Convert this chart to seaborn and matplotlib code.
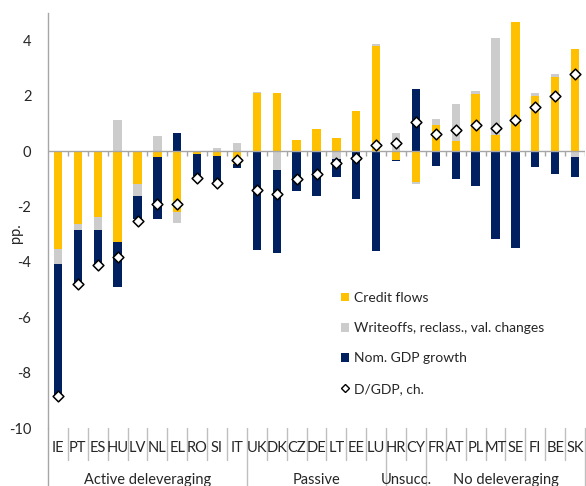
import numpy as np
import matplotlib
matplotlib.use("Agg")
import matplotlib.pyplot as plt
import seaborn as sns
from matplotlib.patches import Patch
from matplotlib.lines import Line2D

COUNTRIES = ["IE", "PT", "ES", "HU", "LV", "NL", "EL", "RO", "SI", "IT",
             "UK", "DK", "CZ", "DE", "LT", "EE", "LU",
             "HR", "CY",
             "FR", "AT", "PL", "MT", "SE", "FI", "BE", "SK"]

CREDIT = [-3.54, -2.64, -2.39, -3.29, -1.18, -0.20, -2.19, -0.10, -0.19, -0.48,
          2.10, 2.10, 0.41, 0.80, 0.48, 1.45, 3.80,
          -0.30, -1.10,
          0.94, 0.37, 2.07, 0.58, 4.66, 2.01, 2.68, 3.68]

WRITEOFFS = [-0.55, -0.19, -0.46, 1.12, -0.44, 0.55, -0.40, 0.00, 0.12, 0.30,
             0.03, -0.69, 0.00, 0.00, -0.28, 0.00, 0.08,
             0.66, -0.10,
             0.22, 1.34, 0.10, 3.50, 0.00, 0.11, 0.10, -0.20]

GDP = [-4.74, -2.00, -1.27, -1.63, -0.83, -2.25, 0.67, -0.80, -0.91, -0.12,
       -3.57, -3.00, -1.42, -1.61, -0.64, -1.73, -3.60,
       -0.07, 2.23,
       -0.55, -1.00, -1.24, -3.19, -3.48, -0.57, -0.83, -0.73]

DGDP = [-8.83, -4.80, -4.12, -3.81, -2.52, -1.89, -1.89, -0.96, -1.14, -0.30,
        -1.41, -1.56, -1.01, -0.83, -0.41, -0.25, 0.24,
        0.30, 1.04,
        0.62, 0.75, 0.94, 0.84, 1.14, 1.58, 2.00, 2.80]

GROUPS = ["Active deleveraging", "Passive", "Unsucc.", "No deleveraging"]
GROUP_SIZES = [10, 7, 2, 8]

SERIES = ["Credit flows", "Writeoffs, reclass., val. changes", "Nom. GDP growth"]
COLORS = ["#FFC000", "#CCCCCC", "#002060"]

sns.set_theme(style="white")
plt.rcParams["font.family"] = ["Lato", "DejaVu Sans"]
plt.rcParams["axes.unicode_minus"] = False

fig = plt.figure(figsize=(5.86, 4.86), dpi=100)
ax = fig.add_axes([48 / 586, 58 / 486, 537 / 586, 415.2 / 486])

comps = np.array([CREDIT, WRITEOFFS, GDP])
pos = np.cumsum(np.clip(comps, 0, None), axis=0)
neg = np.cumsum(np.clip(comps, None, 0), axis=0)

# layered bars: cumulative totals drawn first, earlier series on top
for k in [2, 1, 0]:
    for layer in (pos[k], neg[k]):
        sns.barplot(x=COUNTRIES, y=layer, order=COUNTRIES, color=COLORS[k],
                    width=0.42, linewidth=0, saturation=1, errorbar=None,
                    ax=ax, zorder=2)

n = len(COUNTRIES)
xs = np.arange(n)
sns.scatterplot(x=xs, y=DGDP, marker="D", s=30, color="white",
                edgecolor="black", linewidth=1.1, ax=ax, zorder=5)

ax.set_xlim(-0.5, n - 0.5)
ax.set_ylim(-10, 5)
ax.set_yticks(np.arange(-10, 5, 2))
ax.tick_params(axis="y", length=0, pad=12, labelsize=10.5, colors="#262626")
ax.set_xticks([])
ax.set_xlabel("")
ax.set_ylabel("pp.", fontsize=10.5, color="#262626")
ax.yaxis.set_label_coords(-0.047, 0.47)

for s in ["top", "right", "bottom"]:
    ax.spines[s].set_visible(False)
ax.spines["left"].set_color("#A6A6A6")
ax.spines["left"].set_linewidth(1)

# zero axis line with small ticks at category boundaries
ax.axhline(0, color="#A6A6A6", lw=1, zorder=3)
ax.vlines(np.arange(n) + 0.5, -0.18, 0, color="#A6A6A6", lw=1, zorder=3)

# category labels and separators below the plot
trans = ax.get_xaxis_transform()
for i, c in enumerate(COUNTRIES):
    ax.text(i, -0.048, c, transform=trans, ha="center", va="center",
            fontsize=10.5, color="#262626", clip_on=False)
bounds = np.cumsum(GROUP_SIZES)
for b in range(1, n + 1):
    bottom = -0.14 if b in bounds else -0.077
    ax.plot([b - 0.5, b - 0.5], [0, bottom], transform=trans,
            color="#BFBFBF", lw=1, clip_on=False)
ax.plot([-0.5, -0.5], [0, -0.14], transform=trans,
        color="#A6A6A6", lw=1, clip_on=False)
start = 0
for g, size in zip(GROUPS, GROUP_SIZES):
    ax.text(start + size / 2 - 0.5, -0.125, g, transform=trans, ha="center",
            va="center", fontsize=10.5, color="#262626", clip_on=False)
    start += size

handles = [Patch(facecolor=c, edgecolor="none") for c in COLORS]
handles.append(Line2D([], [], marker="D", markersize=4, markerfacecolor="white",
                      markeredgecolor="black", linestyle="none"))
leg = ax.legend(handles, SERIES + ["D/GDP, ch."], loc="upper left",
                bbox_to_anchor=(0.545, 0.328), frameon=False, fontsize=10,
                handlelength=0.6, handleheight=0.6, handletextpad=0.35,
                labelspacing=1.32, borderpad=0, borderaxespad=0)
for t in leg.get_texts():
    t.set_color("#262626")

fig.savefig("out.png", dpi=100)
